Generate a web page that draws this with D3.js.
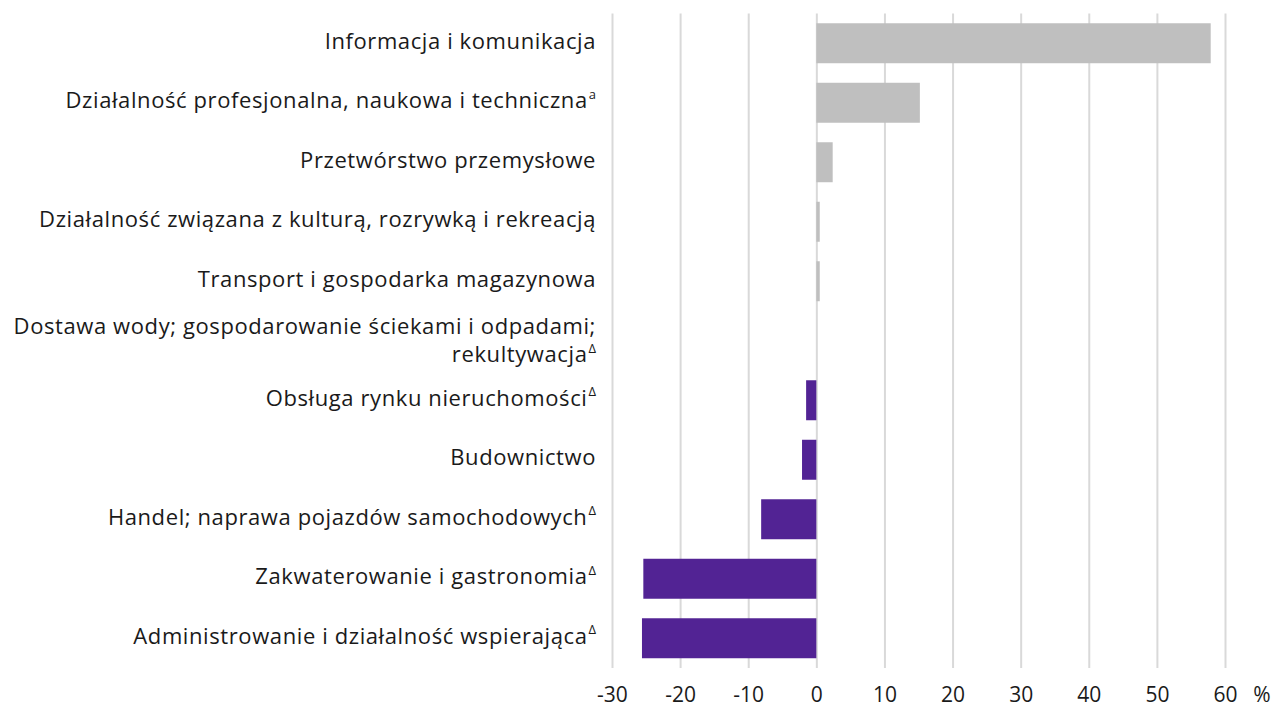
<!DOCTYPE html>
<html>
<head>
<meta charset="utf-8">
<script src="https://cdn.jsdelivr.net/npm/d3@7"></script>
<style>
  body { margin: 0; background: #fff; }
  text { font-family: "Open Sans", "Noto Sans", sans-serif; fill: #1a1a1a; }
</style>
</head>
<body>
<script>
// categories (lines of the label), their footnote marks and values in %
let categories = [
    ["Informacja i komunikacja"],
    ["Działalność profesjonalna, naukowa i techniczna"],
    ["Przetwórstwo przemysłowe"],
    ["Działalność związana z kulturą, rozrywką i rekreacją"],
    ["Transport i gospodarka magazynowa"],
    ["Dostawa wody; gospodarowanie ściekami i odpadami;", "rekultywacja"],
    ["Obsługa rynku nieruchomości"],
    ["Budownictwo"],
    ["Handel; naprawa pojazdów samochodowych"],
    ["Zakwaterowanie i gastronomia"],
    ["Administrowanie i działalność wspierająca"]
];
let marks = ["", "a", "", "", "", "Δ", "Δ", "", "Δ", "Δ", "Δ"];
let values = [57.9, 15.2, 2.4, 0.5, 0.5, 0, -1.5, -2.1, -8.1, -25.4, -25.6];
let tickValues = [-30, -20, -10, 0, 10, 20, 30, 40, 50, 60];

let width = 1274;
let height = 707;
let margin = {left: 612, right: 49, top: 13.5, bottom: 39};

let svg = d3.select("body").append("svg")
    .attr("width", width)
    .attr("height", height);

let x = d3.scaleLinear()
    .domain([-30, 60])
    .range([margin.left, width - margin.right]);

let y = d3.scaleBand()
    .domain(d3.range(categories.length))
    .range([margin.top, height - margin.bottom])
    .paddingInner(0.328)
    .paddingOuter(0.164);

// gridlines + tick labels
let xAxis = d3.axisBottom(x)
    .tickValues(tickValues)
    .tickSize(-(height - margin.bottom - margin.top))
    .tickPadding(19)
    .tickFormat(d3.format("d"));

let axisG = svg.append("g")
    .attr("transform", "translate(0," + (height - margin.bottom) + ")")
    .call(xAxis);

axisG.select(".domain").remove();
axisG.selectAll(".tick line")
    .attr("stroke", "#d9d9d9")
    .attr("stroke-width", 2);
axisG.selectAll(".tick text")
    .attr("font-size", 21)
    .attr("font-family", "'Open Sans', sans-serif")
    .attr("fill", "#1a1a1a")
    .text(d => d < 0 ? "-" + Math.abs(d) : d);

svg.append("text")
    .attr("x", x(60) + 37)
    .attr("y", height - margin.bottom + 19)
    .attr("dy", "0.71em")
    .attr("text-anchor", "middle")
    .attr("font-size", 21)
    .text("%");

// bars
svg.append("g")
    .selectAll("rect")
    .data(values)
    .join("rect")
    .attr("x", d => x(Math.min(0, d)))
    .attr("y", (d, i) => y(i))
    .attr("width", d => Math.abs(x(d) - x(0)))
    .attr("height", y.bandwidth())
    .attr("fill", d => d >= 0 ? "#bfbfbf" : "#522394");

// category labels
let labels = svg.append("g")
    .selectAll("text")
    .data(categories)
    .join("text")
    .attr("text-anchor", "end")
    .attr("font-size", 22)
    .attr("letter-spacing", 0.6)
    .attr("x", 596)
    .attr("y", (d, i) => y(i) + y.bandwidth() / 2 - (d.length - 1) * 12);

labels.each(function(lines, i) {
    let t = d3.select(this);
    lines.forEach((line, j) => {
        let last = j === lines.length - 1;
        t.append("tspan")
            .attr("x", 596)
            .attr("dy", j === 0 ? "0.25em" : 28)
            .text(line);
        if (last && marks[i]) {
            t.append("tspan")
                .attr("font-size", 13)
                .attr("letter-spacing", 0)
                .attr("dy", -9.5)
                .attr("dx", 1)
                .text(marks[i]);
        }
    });
});
</script>
</body>
</html>
